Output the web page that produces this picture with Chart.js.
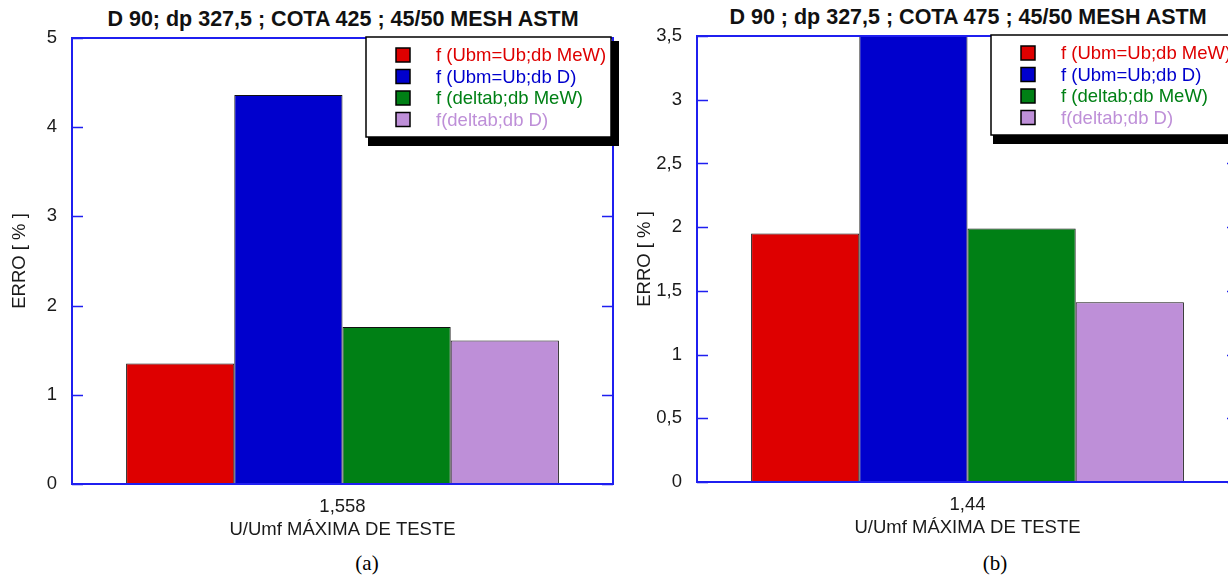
<!DOCTYPE html>
<html>
<head>
<meta charset="utf-8">
<script src="https://cdn.jsdelivr.net/npm/chart.js@4.4.1/dist/chart.umd.min.js"></script>
<style>
html, body { margin: 0; padding: 0; width: 1228px; height: 576px; overflow: hidden; background: #fff; }
canvas { position: absolute; }
.title { position: absolute; font: bold 21.5px "Liberation Sans", Arial, sans-serif; color: #111; white-space: nowrap; transform: translate(-50%, -50%); }
.caption { position: absolute; font: 21px "Liberation Serif", "Times New Roman", serif; color: #000; transform: translate(-50%, -50%); }
</style>
</head>
<body>
<div class="title" style="left:343px; top:19px;">D 90; dp 327,5 ; COTA 425 ; 45/50 MESH ASTM</div>
<div class="title" style="left:968px; top:17px;">D 90 ; dp 327,5 ; COTA 475 ; 45/50 MESH ASTM</div>
<canvas id="chartA" width="630" height="545" style="left:0; top:0;"></canvas>
<canvas id="chartB" width="630" height="545" style="left:625px; top:-2px;"></canvas>
<div class="caption" style="left:367px; top:563px;">(a)</div>
<div class="caption" style="left:995px; top:563px;">(b)</div>

<script>
// series shared by both panels
const seriesNames = ['f (Ubm=Ub;db MeW)', 'f (Ubm=Ub;db D)', 'f (deltab;db MeW)', 'f(deltab;db D)'];
const seriesColors = ['#de0000', '#0000cd', '#008015', '#be8fd8'];

// panel (a): COTA 425
const categoriesA = ['1,558'];
const valuesA = [1.35, 4.36, 1.76, 1.61];
const yTicksA = [0, 1, 2, 3, 4, 5];

// panel (b): COTA 475 (blue bar runs past the top of the axis)
const categoriesB = ['1,44'];
const valuesB = [1.95, 4.2, 1.99, 1.41];
const yTicksB = [0, 0.5, 1, 1.5, 2, 2.5, 3, 3.5];

const axisBlue = '#1f1ff0';
const textColor = '#1a1a1a';
const labelFont = { family: '"Liberation Sans", Arial, sans-serif', size: 18.5 };

// blue frame with inward ticks on both sides
const framePlugin = {
    id: 'frame',
    afterDatasetsDraw(chart) {
        const { ctx, chartArea: a } = chart;
        const y = chart.scales.y;
        ctx.save();
        ctx.strokeStyle = axisBlue;
        ctx.lineWidth = 2;
        ctx.strokeRect(a.left, a.top, a.right - a.left, a.bottom - a.top);
        ctx.lineWidth = 1.5;
        y.ticks.forEach(t => {
            const py = Math.round(y.getPixelForValue(t.value)) + 0.5;
            ctx.beginPath();
            ctx.moveTo(a.left, py);
            ctx.lineTo(a.left + 11, py);
            ctx.moveTo(a.right, py);
            ctx.lineTo(a.right - 11, py);
            ctx.stroke();
        });
        ctx.restore();
    }
};

// boxed legend with a heavy drop shadow, top right of the plot
const boxLegendPlugin = {
    id: 'boxLegend',
    afterDraw(chart) {
        const { ctx, chartArea: a } = chart;
        const x0 = a.right - 247, y0 = a.top - 1, w = 245, h = 100;
        ctx.save();
        ctx.fillStyle = '#000';
        ctx.fillRect(x0 + 2, y0 + 4, w + 6, h + 5);
        ctx.fillStyle = '#fff';
        ctx.fillRect(x0, y0, w, h);
        ctx.strokeStyle = '#000';
        ctx.lineWidth = 1.5;
        ctx.strokeRect(x0, y0, w, h);
        ctx.font = labelFont.size + 'px ' + labelFont.family;
        ctx.textBaseline = 'middle';
        chart.data.datasets.forEach((ds, i) => {
            const cy = y0 + 18 + i * 21.5;
            ctx.fillStyle = ds.backgroundColor;
            ctx.fillRect(x0 + 30, cy - 7, 14, 14);
            ctx.lineWidth = 1.5;
            ctx.strokeStyle = '#000';
            ctx.strokeRect(x0 + 30, cy - 7, 14, 14);
            ctx.fillText(ds.label, x0 + 70, cy + 1);
        });
        ctx.restore();
    }
};

function makeChart(id, categories, values, yTicks, yMax) {
    const ctx = document.getElementById(id).getContext('2d');
    return new Chart(ctx, {
        type: 'bar',
        data: {
            labels: categories,
            datasets: seriesNames.map((name, i) => ({
                label: name,
                data: [values[i]],
                backgroundColor: seriesColors[i],
                borderColor: '#111',
                borderWidth: 1,
                categoryPercentage: 0.8,
                barPercentage: 1
            }))
        },
        options: {
            responsive: false,
            animation: false,
            layout: { padding: { top: 38, right: 17, left: 0, bottom: 0 } },
            plugins: {
                legend: { display: false },
                tooltip: { enabled: false }
            },
            scales: {
                x: {
                    grid: { display: false, drawTicks: false },
                    border: { display: false },
                    ticks: { color: textColor, font: labelFont, padding: 12 },
                    title: {
                        display: true,
                        text: 'U/Umf MÁXIMA DE TESTE',
                        color: textColor,
                        font: labelFont,
                        padding: { top: 0, bottom: 4 }
                    },
                    afterFit: axis => { axis.height = 61; }
                },
                y: {
                    min: 0,
                    max: yMax,
                    grid: { display: false, drawTicks: false },
                    border: { display: false },
                    afterBuildTicks: axis => { axis.ticks = yTicks.map(v => ({ value: v })); },
                    ticks: {
                        color: textColor,
                        font: labelFont,
                        padding: 15,
                        callback: v => String(v).replace('.', ',')
                    },
                    title: {
                        display: true,
                        text: 'ERRO [ % ]',
                        color: textColor,
                        font: labelFont,
                        padding: { top: 9, bottom: 0 }
                    },
                    afterFit: axis => { axis.width = 72; }
                }
            }
        },
        plugins: [framePlugin, boxLegendPlugin]
    });
}

makeChart('chartA', categoriesA, valuesA, yTicksA, 5);
makeChart('chartB', categoriesB, valuesB, yTicksB, 3.5);
</script>
</body>
</html>
